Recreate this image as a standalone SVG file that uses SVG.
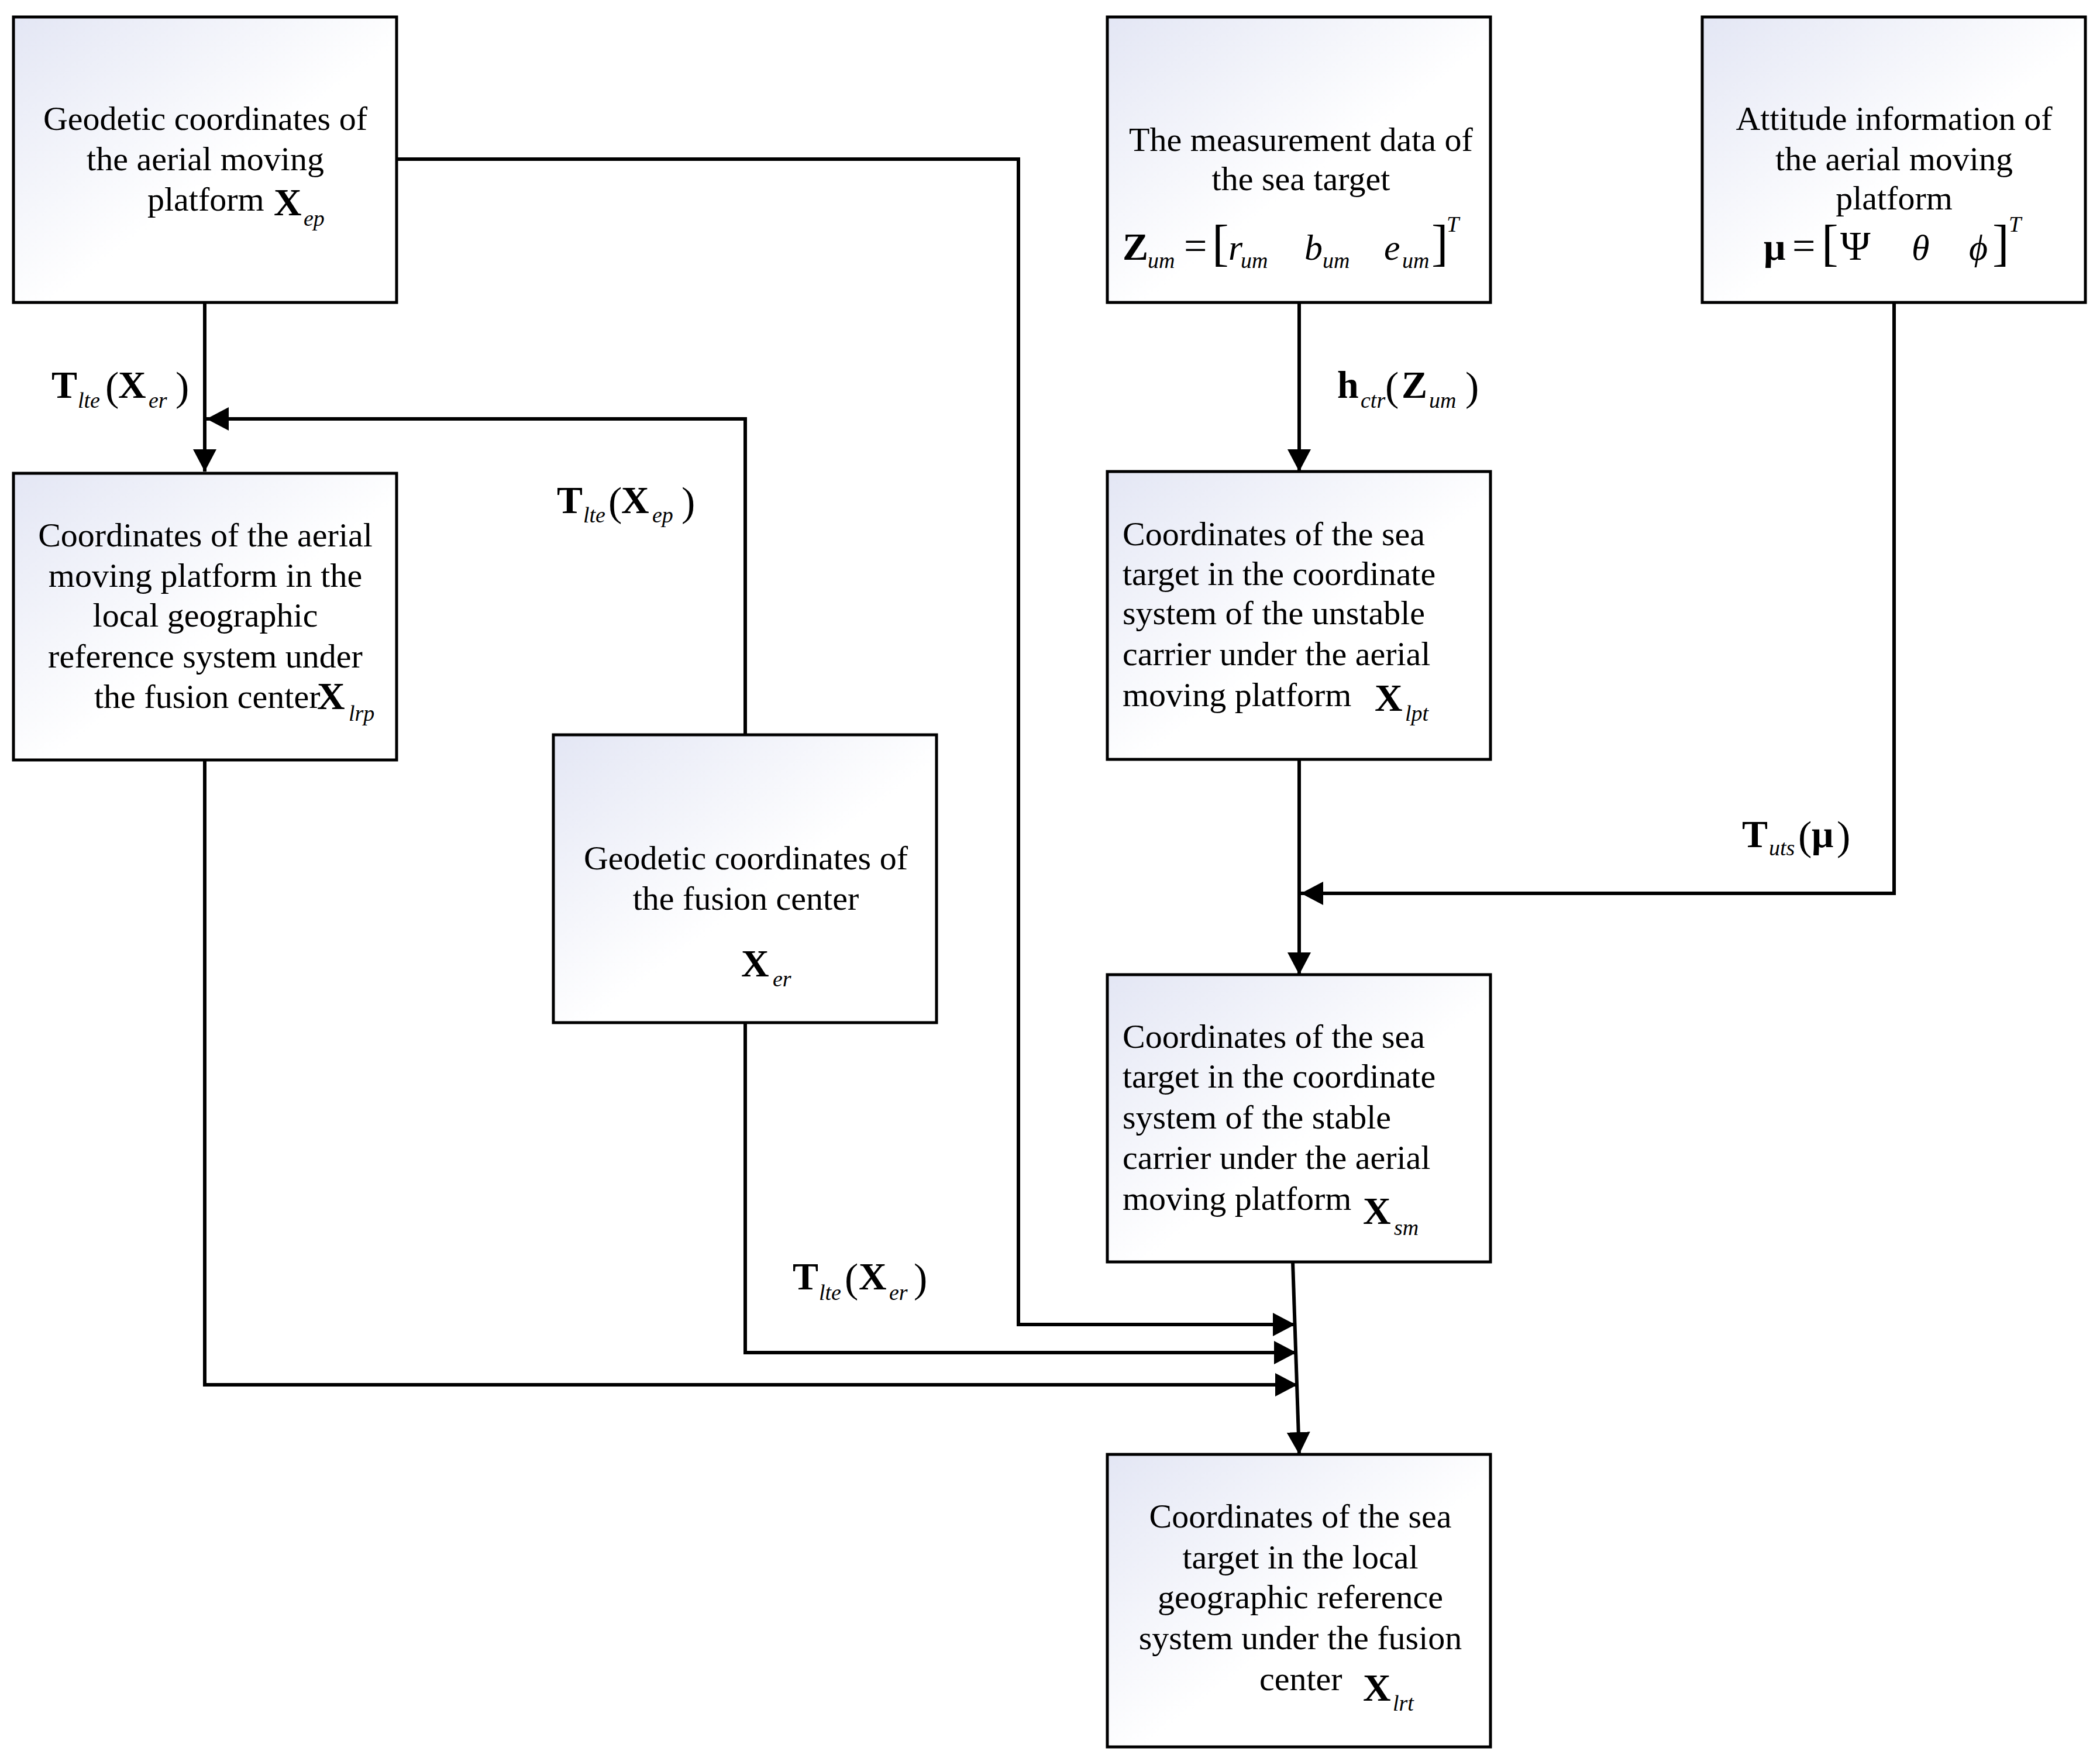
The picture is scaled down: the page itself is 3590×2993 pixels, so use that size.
<svg xmlns="http://www.w3.org/2000/svg" width="3590" height="2993" viewBox="0 0 3590 2993">
<style>
.box{stroke:#000;stroke-width:5;fill:url(#bg)}
.t{font-family:"Liberation Serif","Times New Roman",serif;font-size:58px;fill:#000}
.c{text-anchor:middle}
.mb{font-family:"Liberation Serif","Times New Roman",serif;font-weight:bold;font-size:66px;fill:#000}
.mi{font-family:"Liberation Serif","Times New Roman",serif;font-style:italic;font-size:38px;fill:#000}
.mr{font-family:"Liberation Serif","Times New Roman",serif;font-size:70px;fill:#000}
.ml{font-family:"Liberation Serif","Times New Roman",serif;font-style:italic;font-size:62px;fill:#000}
.br{font-family:"Liberation Serif","Times New Roman",serif;font-size:86px;fill:#000}
.conn path{fill:none;stroke:#000;stroke-width:6}
</style>
<defs>
<linearGradient id="bg" x1="0" y1="0" x2="1" y2="1">
<stop offset="0" stop-color="#e3e6f4"/>
<stop offset="0.55" stop-color="#ffffff"/>
<stop offset="1" stop-color="#ffffff"/>
</linearGradient>
<marker id="ah" markerUnits="userSpaceOnUse" markerWidth="40" markerHeight="40" refX="38" refY="20" orient="auto">
<path d="M0,0 L38,20 L0,40 z" fill="#000"/>
</marker>
</defs>
<rect width="3590" height="2993" fill="#fff"/>

<g id="connectors" class="conn">
<path d="M350,517 V806" marker-end="url(#ah)"/>
<path d="M1274,1256 V716 H353" marker-end="url(#ah)"/>
<path d="M678,272 H1741 V2264 H2214" marker-end="url(#ah)"/>
<path d="M1274,1748 V2312 H2216" marker-end="url(#ah)"/>
<path d="M350,1300 V2367 H2218" marker-end="url(#ah)"/>
<path d="M2221,517 V806" marker-end="url(#ah)"/>
<path d="M2221,1298 V1666" marker-end="url(#ah)"/>
<path d="M3238,517 V1527 H2224" marker-end="url(#ah)"/>
<path d="M2210,2157 L2221,2486" marker-end="url(#ah)"/>
</g>

<g id="labels">
<text><tspan class="mb" x="88" y="680">T</tspan><tspan class="mi" x="133" y="697">lte</tspan><tspan class="mr" x="180" y="684">(</tspan><tspan class="mb" x="202" y="680">X</tspan><tspan class="mi" x="254" y="697">er</tspan><tspan class="mr" x="300" y="684">)</tspan></text>
<text><tspan class="mb" x="952" y="877">T</tspan><tspan class="mi" x="997" y="893">lte</tspan><tspan class="mr" x="1040" y="881">(</tspan><tspan class="mb" x="1062" y="877">X</tspan><tspan class="mi" x="1115" y="893">ep</tspan><tspan class="mr" x="1165" y="881">)</tspan></text>
<text><tspan class="mb" x="2286" y="680">h</tspan><tspan class="mi" x="2326" y="697">ctr</tspan><tspan class="mr" x="2368" y="684">(</tspan><tspan class="mb" x="2396" y="680">Z</tspan><tspan class="mi" x="2443" y="697">um</tspan><tspan class="mr" x="2505" y="684">)</tspan></text>
<text><tspan class="mb" x="2978" y="1448">T</tspan><tspan class="mi" x="3024" y="1462">uts</tspan><tspan class="mr" x="3074" y="1452">(</tspan><tspan class="mb" x="3097" y="1448">μ</tspan><tspan class="mr" x="3140" y="1452">)</tspan></text>
<text><tspan class="mb" x="1355" y="2204">T</tspan><tspan class="mi" x="1400" y="2222">lte</tspan><tspan class="mr" x="1444" y="2208">(</tspan><tspan class="mb" x="1468" y="2204">X</tspan><tspan class="mi" x="1520" y="2222">er</tspan><tspan class="mr" x="1562" y="2208">)</tspan></text>
</g>

<g id="node-geodetic-aerial">
<rect class="box" x="23" y="29" width="655" height="488"/>
<text class="t c" x="351" y="222">Geodetic coordinates of</text>
<text class="t c" x="351" y="291">the aerial moving</text>
<text class="t" x="252" y="360">platform</text>
<text><tspan class="mb" x="468" y="368">X</tspan><tspan class="mi" x="519" y="386">ep</tspan></text>
</g>

<g id="node-measurement">
<rect class="box" x="1893" y="29" width="655" height="488"/>
<text class="t c" x="2224" y="258">The measurement data of</text>
<text class="t c" x="2224" y="325">the sea target</text>
<text><tspan class="mb" x="1919" y="444">Z</tspan><tspan class="mi" x="1962" y="458">um</tspan><tspan class="mr" x="2024" y="444">=</tspan><tspan class="br" x="2072" y="444">[</tspan><tspan class="ml" x="2100" y="444">r</tspan><tspan class="mi" x="2121" y="458">um</tspan><tspan class="ml" x="2230" y="444">b</tspan><tspan class="mi" x="2261" y="458">um</tspan><tspan class="ml" x="2366" y="444">e</tspan><tspan class="mi" x="2397" y="458">um</tspan><tspan class="br" x="2447" y="444">]</tspan><tspan class="mi" x="2473" y="396">T</tspan></text>
</g>

<g id="node-attitude">
<rect class="box" x="2910" y="29" width="655" height="488"/>
<text class="t c" x="3238" y="222">Attitude information of</text>
<text class="t c" x="3238" y="291">the aerial moving</text>
<text class="t c" x="3238" y="358">platform</text>
<text><tspan class="mb" x="3015" y="444">μ</tspan><tspan class="mr" x="3064" y="444">=</tspan><tspan class="br" x="3114" y="444">[</tspan><tspan class="mr" x="3146" y="444">Ψ</tspan><tspan class="ml" x="3268" y="444">θ</tspan><tspan class="ml" x="3366" y="444">ϕ</tspan><tspan class="br" x="3406" y="444">]</tspan><tspan class="mi" x="3434" y="396">T</tspan></text>
</g>

<g id="node-aerial-local">
<rect class="box" x="23" y="809" width="655" height="490"/>
<text class="t c" x="351" y="934">Coordinates of the aerial</text>
<text class="t c" x="351" y="1003">moving platform in the</text>
<text class="t c" x="351" y="1071">local geographic</text>
<text class="t c" x="351" y="1141">reference system under</text>
<text class="t" x="161" y="1210">the fusion center</text>
<text><tspan class="mb" x="542" y="1212">X</tspan><tspan class="mi" x="596" y="1232">lrp</tspan></text>
</g>

<g id="node-fusion-center">
<rect class="box" x="946" y="1256" width="655" height="492"/>
<text class="t c" x="1275" y="1486">Geodetic coordinates of</text>
<text class="t c" x="1275" y="1555">the fusion center</text>
<text><tspan class="mb" x="1267" y="1669">X</tspan><tspan class="mi" x="1321" y="1686">er</tspan></text>
</g>

<g id="node-unstable">
<rect class="box" x="1893" y="806" width="655" height="492"/>
<text class="t" x="1919" y="932">Coordinates of the sea</text>
<text class="t" x="1919" y="1000">target in the coordinate</text>
<text class="t" x="1919" y="1067">system of the unstable</text>
<text class="t" x="1919" y="1137">carrier under the aerial</text>
<text class="t" x="1919" y="1207">moving platform</text>
<text><tspan class="mb" x="2350" y="1215">X</tspan><tspan class="mi" x="2402" y="1232">lpt</tspan></text>
</g>

<g id="node-stable">
<rect class="box" x="1893" y="1666" width="655" height="491"/>
<text class="t" x="1919" y="1791">Coordinates of the sea</text>
<text class="t" x="1919" y="1859">target in the coordinate</text>
<text class="t" x="1919" y="1929">system of the stable</text>
<text class="t" x="1919" y="1998">carrier under the aerial</text>
<text class="t" x="1919" y="2068">moving platform</text>
<text><tspan class="mb" x="2330" y="2092">X</tspan><tspan class="mi" x="2383" y="2111">sm</tspan></text>
</g>

<g id="node-local-target">
<rect class="box" x="1893" y="2486" width="655" height="500"/>
<text class="t c" x="2223" y="2611">Coordinates of the sea</text>
<text class="t c" x="2223" y="2681">target in the local</text>
<text class="t c" x="2223" y="2749">geographic reference</text>
<text class="t c" x="2223" y="2819">system under the fusion</text>
<text class="t" x="2153" y="2889">center</text>
<text><tspan class="mb" x="2330" y="2907">X</tspan><tspan class="mi" x="2381" y="2924">lrt</tspan></text>
</g>
</svg>
